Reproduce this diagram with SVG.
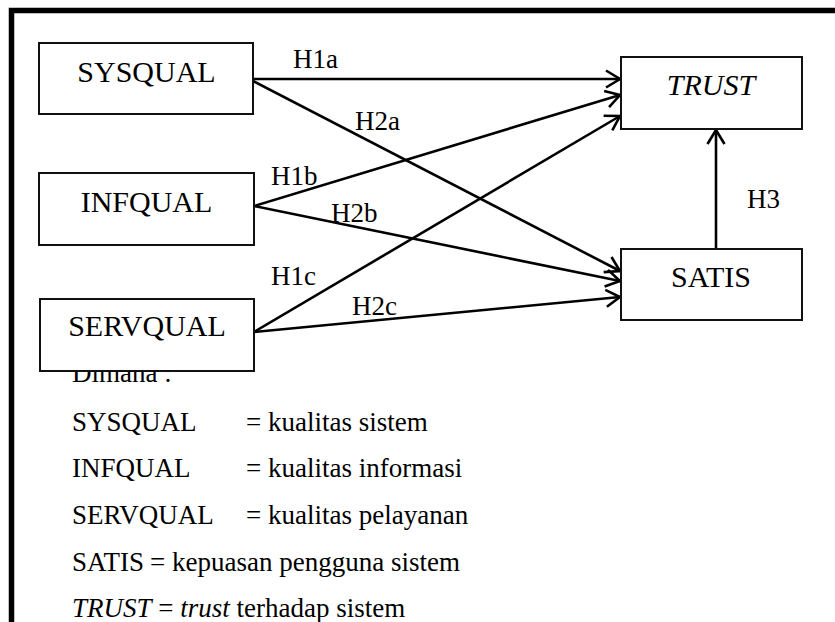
<svg xmlns="http://www.w3.org/2000/svg" width="835" height="622" viewBox="0 0 835 622" font-family="'Liberation Serif', 'Times New Roman', Times, serif">
  <style>
    text { font-family: "Liberation Serif", "Times New Roman", Times, serif; fill: #000; }
    .node rect { fill: #fff; stroke: #111; stroke-width: 2; }
    .label { font-size: 30px; text-anchor: middle; }
    .hyp { font-size: 27px; }
    .legend { font-size: 27px; }
    .edge { stroke: #000; stroke-width: 2.6; fill: none; marker-end: url(#open-arrow); }
    .frame { stroke: #000; stroke-width: 5.5; fill: none; }
    .it { font-style: italic; }
  </style>
  <defs>
    <marker id="open-arrow" markerUnits="userSpaceOnUse" markerWidth="22" markerHeight="22" viewBox="-18 -11 22 22" refX="0" refY="0" orient="auto">
      <path d="M -14 -8.5 L 0 0 L -14 8.5" fill="none" stroke="#000" stroke-width="2.6" stroke-linejoin="miter"/>
    </marker>
  </defs>

  <rect width="835" height="622" fill="#fff"/>

  <!-- outer frame (open to the right and bottom) -->
  <path class="frame" d="M 11.5 622 L 11.5 10.5 L 835 10.5"/>

  <!-- legend -->
  <g id="legend" class="legend">
    <text x="72" y="382">Dimana :</text>
    <text x="72" y="431">SYSQUAL</text>
    <text x="246" y="431">= kualitas sistem</text>
    <text x="72" y="477">INFQUAL</text>
    <text x="246" y="477">= kualitas informasi</text>
    <text x="72" y="524">SERVQUAL</text>
    <text x="246" y="524">= kualitas pelayanan</text>
    <text x="72" y="571">SATIS</text>
    <text x="150" y="571">= kepuasan pengguna sistem</text>
    <text x="72" y="617"><tspan class="it">TRUST</tspan> = <tspan class="it">trust</tspan> terhadap sistem</text>
  </g>

  <!-- connectors -->
  <g id="connectors">
    <line class="edge" x1="253" y1="79" x2="620" y2="79"/>
    <line class="edge" x1="253" y1="81" x2="620" y2="271"/>
    <line class="edge" x1="254" y1="206" x2="620" y2="95"/>
    <line class="edge" x1="254" y1="206" x2="620" y2="281"/>
    <line class="edge" x1="254" y1="332" x2="620" y2="116"/>
    <line class="edge" x1="254" y1="332" x2="620" y2="297"/>
    <line class="edge" x1="716" y1="249" x2="716" y2="130"/>
    <g class="hyp">
      <text x="293" y="68">H1a</text>
      <text x="355" y="130">H2a</text>
      <text x="271" y="185">H1b</text>
      <text x="331" y="222">H2b</text>
      <text x="271" y="285">H1c</text>
      <text x="352" y="315">H2c</text>
      <text x="747" y="208">H3</text>
    </g>
  </g>

  <!-- nodes -->
  <g id="sysqual" class="node">
    <rect x="39" y="43" width="214" height="71"/>
    <text class="label" x="146.5" y="82">SYSQUAL</text>
  </g>
  <g id="infqual" class="node">
    <rect x="39" y="173" width="215" height="72"/>
    <text class="label" x="146.5" y="212">INFQUAL</text>
  </g>
  <g id="servqual" class="node">
    <rect x="40" y="299" width="214" height="72"/>
    <text class="label" x="147" y="336">SERVQUAL</text>
  </g>
  <g id="trust" class="node">
    <rect x="621" y="57" width="181" height="72"/>
    <text class="label it" x="711" y="95">TRUST</text>
  </g>
  <g id="satis" class="node">
    <rect x="621" y="249" width="181" height="71"/>
    <text class="label" x="711" y="287">SATIS</text>
  </g>
</svg>
